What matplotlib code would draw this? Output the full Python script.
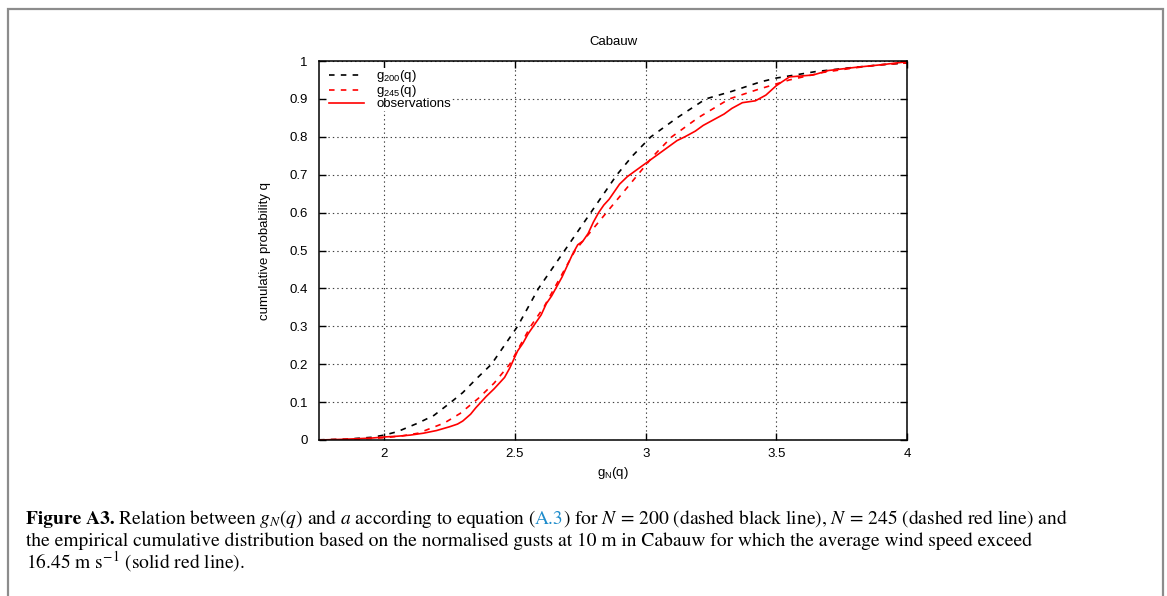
import matplotlib.pyplot as plt
from matplotlib.patches import Rectangle

plt.rcParams['font.family'] = ['Liberation Sans', 'DejaVu Sans']
plt.rcParams['lines.scale_dashes'] = False

# theoretical curves g_N(q) for N = 200 and N = 245
x200 = [1.75, 1.85, 1.95, 2.0, 2.05, 2.13, 2.19, 2.25, 2.30, 2.35, 2.41, 2.46,
        2.51, 2.55, 2.59, 2.64, 2.69, 2.74, 2.79, 2.84, 2.89, 2.95, 3.02, 3.12,
        3.23, 3.33, 3.44, 3.50, 3.65, 3.78, 3.90, 4.0]
q200 = [0.0005, 0.002, 0.007, 0.013, 0.022, 0.045, 0.065, 0.097, 0.125, 0.16,
        0.20, 0.25, 0.30, 0.35, 0.40, 0.45, 0.50, 0.55, 0.60, 0.65, 0.70, 0.75,
        0.80, 0.85, 0.90, 0.92, 0.945, 0.955, 0.972, 0.982, 0.99, 0.995]

x245 = [1.75, 1.90, 2.0, 2.07, 2.13, 2.23, 2.29, 2.36, 2.42, 2.48, 2.52, 2.56,
        2.61, 2.65, 2.69, 2.73, 2.79, 2.85, 2.91, 2.97, 3.03, 3.10, 3.20, 3.32,
        3.43, 3.55, 3.68, 3.80, 3.90, 4.0]
q245 = [0.0003, 0.002, 0.006, 0.011, 0.018, 0.045, 0.07, 0.11, 0.15, 0.20,
        0.25, 0.30, 0.35, 0.40, 0.45, 0.50, 0.55, 0.60, 0.65, 0.70, 0.75, 0.80,
        0.85, 0.90, 0.925, 0.95, 0.97, 0.982, 0.99, 0.995]

# empirical distribution of normalised gusts
obs_x = [1.75, 1.85, 1.95, 2.0, 2.05, 2.1, 2.15, 2.2, 2.25, 2.28, 2.3, 2.33,
         2.35, 2.37, 2.39, 2.42, 2.44, 2.46, 2.48, 2.5, 2.51, 2.53, 2.55, 2.57,
         2.6, 2.62, 2.64, 2.66, 2.68, 2.7, 2.72, 2.74, 2.76, 2.78, 2.8, 2.82,
         2.84, 2.86, 2.88, 2.9, 2.93, 2.96, 2.99, 3.02, 3.05, 3.08, 3.12, 3.15,
         3.19, 3.22, 3.26, 3.3, 3.33, 3.37, 3.42, 3.46, 3.5, 3.55, 3.64, 3.7,
         3.8, 3.9, 4.0]
obs_q = [0.0, 0.002, 0.005, 0.008, 0.01, 0.013, 0.018, 0.025, 0.035, 0.042,
         0.05, 0.068, 0.085, 0.1, 0.115, 0.135, 0.15, 0.165, 0.19, 0.22, 0.235,
         0.255, 0.28, 0.3, 0.33, 0.36, 0.38, 0.405, 0.43, 0.46, 0.49, 0.515,
         0.525, 0.545, 0.575, 0.6, 0.62, 0.635, 0.655, 0.675, 0.695, 0.71,
         0.725, 0.74, 0.755, 0.77, 0.79, 0.80, 0.815, 0.83, 0.845, 0.86, 0.875,
         0.89, 0.895, 0.91, 0.935, 0.958, 0.963, 0.975, 0.983, 0.99, 0.998]

xticks = [2, 2.5, 3, 3.5, 4]
xticklabels = ['2', '2.5', '3', '3.5', '4']
yticks = [0, 0.1, 0.2, 0.3, 0.4, 0.5, 0.6, 0.7, 0.8, 0.9, 1]
yticklabels = ['0', '0.1', '0.2', '0.3', '0.4', '0.5', '0.6', '0.7', '0.8', '0.9', '1']

W, H = 1167, 596
fig = plt.figure(figsize=(W / 100, H / 100), dpi=100)
ax = fig.add_axes([319 / W, 1 - 440 / H, (907 - 319) / W, (440 - 61) / H])

ax.plot(x200, q200, color='black', lw=1.2, dashes=(4, 4.5),
        label=r'g$_\mathregular{200}$(q)')
ax.plot(x245, q245, color='red', lw=1.2, dashes=(4, 4.5),
        label=r'g$_\mathregular{245}$(q)')
ax.plot(obs_x, obs_q, color='red', lw=1.2, label='observations')

ax.set_xlim(1.75, 4)
ax.set_ylim(0, 1)
ax.set_xticks(xticks)
ax.set_xticklabels(xticklabels)
ax.set_yticks(yticks)
ax.set_yticklabels(yticklabels)
ax.tick_params(direction='in', top=True, right=True, length=5, width=1,
               labelsize=9.5, color='black')
ax.tick_params(axis='y', pad=8)
ax.tick_params(axis='x', pad=6)
for sp in ax.spines.values():
    sp.set_linewidth(1.1)
ax.grid(True, color='0.25', linestyle=(0, (1, 2.2)), lw=0.8)
ax.set_axisbelow(True)

leg = ax.legend(loc='upper left', bbox_to_anchor=(0.004, 1.0), fontsize=9.5,
                handlelength=2.7, handletextpad=0.9, labelspacing=-0.08,
                borderpad=0.05, fancybox=False, framealpha=1,
                edgecolor='none', facecolor='white')

fig.text(613 / W, 1 - 42 / H, 'Cabauw', ha='center', va='center', fontsize=9.5)
fig.text(265 / W, 1 - 250.5 / H, 'cumulative probability q', rotation=90,
         ha='center', va='center', fontsize=9.5)
fig.text(613 / W, 1 - 473 / H, r'g$_\mathregular{N}$(q)', ha='center',
         va='center', fontsize=9.5)

# page frame around the figure
fig.patches.append(Rectangle((8 / W, -0.1), (1163 - 8) / W, 1.1 - 9 / H,
                             transform=fig.transFigure, fill=False,
                             edgecolor='#8c8c8c', lw=1.6))

# caption, drawn piece by piece so parts can be bold or coloured
renderer = fig.canvas.get_renderer()


def draw_runs(x, y, runs, size=14):
    for s, kw in runs:
        t = fig.text(x, y, s, fontsize=size, family='STIXGeneral',
                     math_fontfamily='stix', va='baseline', **kw)
        x += (t.get_window_extent(renderer).width - 1) / fig.bbox.width


cap_x = 26 / W
draw_runs(cap_x, 1 - 524 / H, [
    ('Figure A3.', dict(weight='bold')),
    (r' Relation between $g_N(q)$ and $a$ according to equation (', {}),
    ('A.3', dict(color='#1e8ccb')),
    (r') for $N\,=\,200$ (dashed black line), $N\,=\,245$ (dashed red line) and', {}),
])
draw_runs(cap_x, 1 - 546 / H, [
    ('the empirical cumulative distribution based on the normalised gusts at '
     '10 m in Cabauw for which the average wind speed exceed', {}),
])
draw_runs(cap_x, 1 - 568 / H, [
    (r'16.45 m s$^{-1}$ (solid red line).', {}),
])

fig.savefig('out.png', dpi=100)
